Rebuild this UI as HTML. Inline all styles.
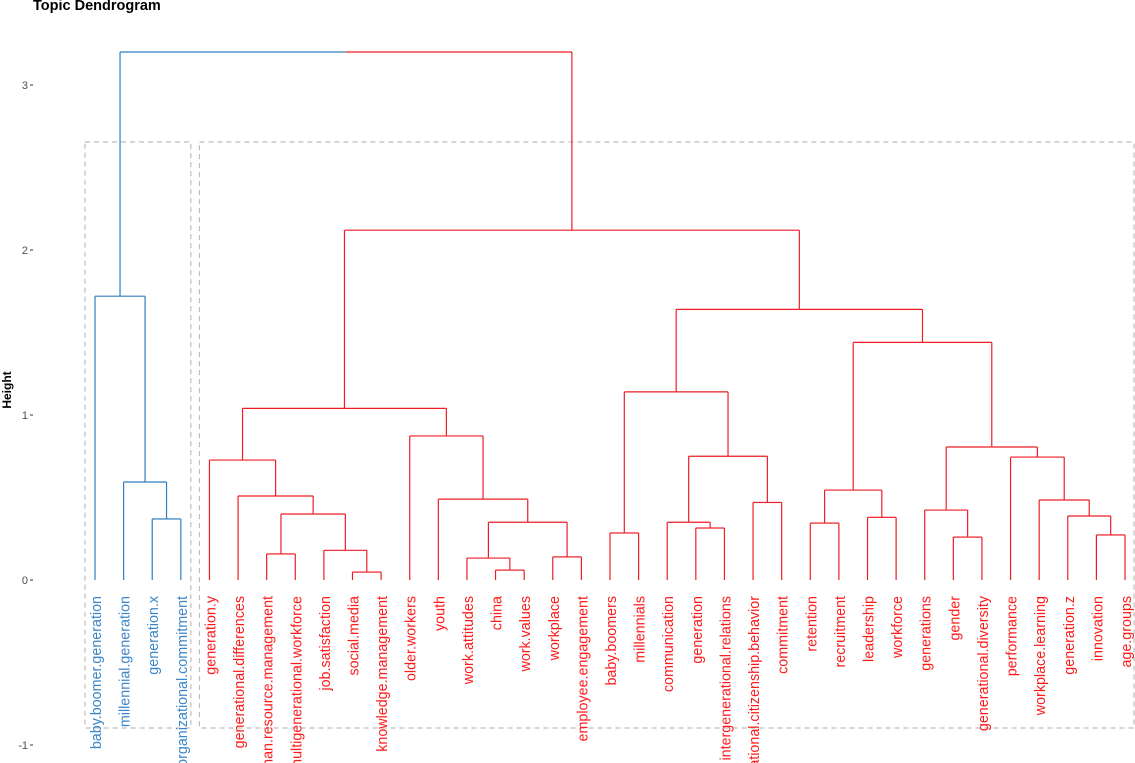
<!DOCTYPE html>
<html><head><meta charset="utf-8"><style>
html,body{margin:0;padding:0;background:#fff;}
svg{display:block;font-family:"Liberation Sans",Arial,sans-serif;}
</style></head><body>
<svg id="chart" width="1135" height="763" viewBox="0 0 1135 763" xmlns="http://www.w3.org/2000/svg">
<text x="33" y="10" font-size="14.5" font-weight="bold" fill="#000">Topic Dendrogram</text>
<text transform="translate(11,390) rotate(-90)" text-anchor="middle" font-size="12" font-weight="bold" fill="#000">Height</text>
<g id="yaxis"></g>
<g id="rects"></g>
<g id="links"></g>
<g id="labels"></g>
</svg>
<script>
const leaves = ["baby.boomer.generation","millennial.generation","generation.x","organizational.commitment","generation.y","generational.differences","human.resource.management","multigenerational.workforce","job.satisfaction","social.media","knowledge.management","older.workers","youth","work.attitudes","china","work.values","workplace","employee.engagement","baby.boomers","millennials","communication","generation","intergenerational.relations","organizational.citizenship.behavior","commitment","retention","recruitment","leadership","workforce","generations","gender","generational.diversity","performance","workplace.learning","generation.z","innovation","age.groups"];
// hclust-style merges: negative = leaf (1-based), positive = earlier merge (1-based)
const mergeLeft  = [-10,-15,-3,-2,-1,-7,-9,6,-6,-5,-14,-17,11,-13,-12,10,-19,-22,-21,-24,19,17,-26,-28,23,-31,-30,-36,-35,-34,-33,27,25,22,16,5];
const mergeRight = [-11,-16,-4,3,4,-8,1,7,8,9,2,-18,12,13,14,15,-20,-23,18,-25,20,21,-27,-29,24,-32,26,-37,28,29,30,31,32,33,34,35];
const mergeHeight = [0.048,0.06,0.37,0.594,1.72,0.158,0.18,0.40,0.509,0.727,0.133,0.14,0.35,0.49,0.873,1.04,0.285,0.315,0.35,0.47,0.75,1.14,0.345,0.38,0.545,0.26,0.424,0.273,0.388,0.485,0.745,0.806,1.44,1.64,2.12,3.2];
const clusterOf = [1,1,1,1,2,2,2,2,2,2,2,2,2,2,2,2,2,2,2,2,2,2,2,2,2,2,2,2,2,2,2,2,2,2,2,2,2];
const yTicks = [-1,0,1,2,3];

const NS="http://www.w3.org/2000/svg";
const colors={0:"#333333",1:"#2f7ec1",2:"#ee1c25"};
const labelColors={1:"#3b86c8",2:"#ff1a1a"};
const X0=95, STEP=(1125-95)/(leaves.length-1);
const yScale=v=>580-165*v;
const xScale=i=>X0+STEP*i;
function mk(tag,attrs,parent){const e=document.createElementNS(NS,tag);for(const k in attrs)e.setAttribute(k,attrs[k]);parent.appendChild(e);return e;}

const ya=document.getElementById('yaxis');
yTicks.forEach(t=>{
  const y=yScale(t);
  const tl=mk('text',{x:28,y:y+4,'text-anchor':'end','font-size':11,fill:'#4d4d4d'},ya);
  tl.textContent=String(t);
  
  
  const tm=mk('line',{x1:30,x2:33,y1:y,y2:y,stroke:'#333','stroke-width':1},ya);
  
  
});

const nodes=[];
function pos(ref){ if(ref<0){const i=-ref-1;return {x:xScale(i),h:0,c:clusterOf[i]};} return nodes[ref-1]; }
const lg=document.getElementById('links');
for(let m=0;m<mergeLeft.length;m++){
  const a=pos(mergeLeft[m]), b=pos(mergeRight[m]), h=mergeHeight[m];
  const c=(a.c===b.c)?a.c:0;
  nodes.push({x:(a.x+b.x)/2,h:h,c:c});
  const yh=yScale(h);
  const ca=colors[a.c], cb=colors[b.c];
  [[a,ca],[b,cb]].forEach(([n,col])=>{
    const l=mk('line',{x1:n.x,x2:n.x,y1:yScale(n.h),y2:yh,stroke:col,'stroke-width':1.2},lg);
    
    
  });
  const mid=(a.x+b.x)/2;
  const h1=mk('line',{x1:a.x,x2:mid,y1:yh,y2:yh,stroke:ca,'stroke-width':1.2},lg);
  
  
  const h2=mk('line',{x1:mid,x2:b.x,y1:yh,y2:yh,stroke:cb,'stroke-width':1.2},lg);
  
  
}

const rg=document.getElementById('rects');
const clusters=[...new Set(clusterOf)];
clusters.forEach(cl=>{
  const idx=clusterOf.map((c,i)=>c===cl?i:-1).filter(i=>i>=0);
  const x1=xScale(idx[0])-10, x2=xScale(idx[idx.length-1])+10;
  const r=mk('rect',{x:x1,y:142,width:Math.min(x2,1134)-x1,height:586,fill:'none',stroke:'#bdbdbd','stroke-width':1.2,'stroke-dasharray':'5,4'},rg);
  
  
});

const lbg=document.getElementById('labels');
leaves.forEach((name,i)=>{
  const x=xScale(i)+6;
  const t=mk('text',{transform:`translate(${x},596) rotate(-90)`,'text-anchor':'end','font-size':14.3,fill:labelColors[clusterOf[i]]},lbg);
  t.textContent=name;
  
  
});
</script>
</body></html>
